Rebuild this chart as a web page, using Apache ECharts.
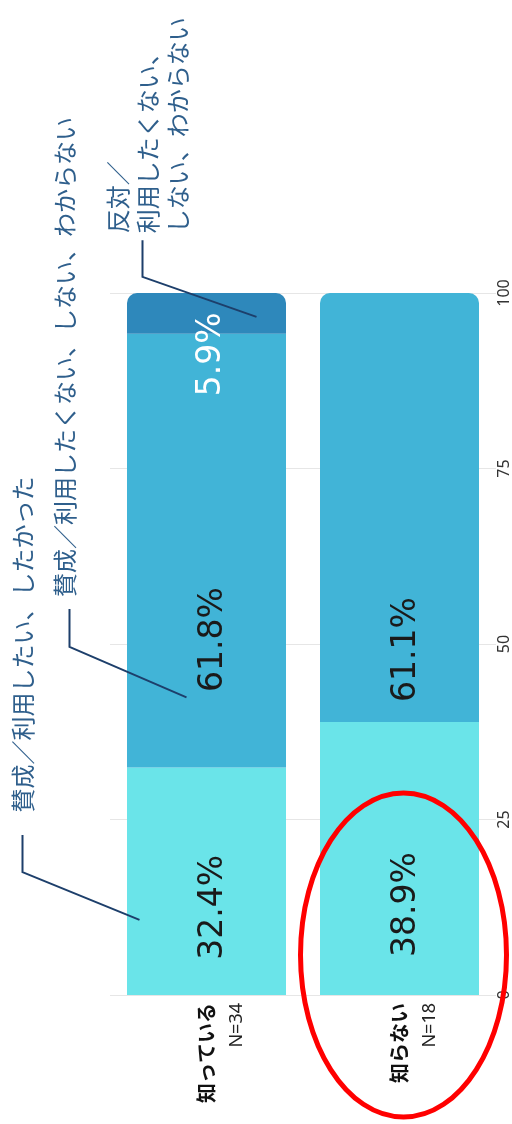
<!DOCTYPE html>
<html>
<head>
<meta charset="utf-8">
<script src="https://cdn.jsdelivr.net/npm/echarts@6/dist/echarts.min.js"></script>
<style>
html,body{margin:0;padding:0;background:#fff;}
#chart{width:512px;height:1124px;}
</style>
</head>
<body>
<div id="chart"></div>
<script>
// ---- data ----
const categories = ['知っている', '知らない'];
const sampleSizes = ['N=34', 'N=18'];
const seriesNames = [
  '賛成／利用したい、したかった',
  '賛成／利用したくない、しない、わからない',
  '反対／利用したくない、しない、わからない'
];
const agreeUse = [32.4, 38.9];
const agreeNotUse = [61.8, 61.1];
const againstNotUse = [5.9, 0];
const valueTicks = [0, 25, 50, 75, 100];

// ---- styles ----
const colors = ['#6ae4e9', '#41b4d7', '#2e88bb'];
const annoText = '#2f5f8c';
const annoLine = '#1d3f6b';
const labelFont = 'DejaVu Sans';
const jpFont = '"Noto Sans CJK JP", "Noto Sans", sans-serif';

const chart = echarts.init(document.getElementById('chart'));

function fmtLabel(p) { return p.value > 0 ? p.value.toFixed(1) + '%' : ''; }

const valueLabel = (color) => ({
  show: true, position: 'inside', rotate: 90,
  fontFamily: labelFont, fontSize: 33, color: color, formatter: fmtLabel
});
// label nudges: screen shift (right, down) expressed in the rotated label frame
const nudge = (right, down) => ({ offset: [-down, right] });

const option = {
  backgroundColor: '#fff',
  animation: false,
  grid: { left: 110, right: 12, top: 293, bottom: 129 },
  xAxis: {
    type: 'category',
    data: categories,
    axisLine: { show: false },
    axisTick: { show: false },
    axisLabel: {
      rotate: 90,
      margin: 8,
      padding: [30, 0, 0, 0],
      formatter: (v, i) => '{a|' + v + '}\n{b|' + sampleSizes[i] + '}',
      rich: {
        a: { fontFamily: jpFont, fontSize: 20, fontWeight: 'bold', color: '#111', lineHeight: 30 },
        b: { fontFamily: 'Noto Sans', fontSize: 18, color: '#222', lineHeight: 30 }
      }
    }
  },
  yAxis: {
    type: 'value',
    position: 'right',
    min: valueTicks[0],
    max: valueTicks[valueTicks.length - 1],
    interval: valueTicks[1] - valueTicks[0],
    axisLine: { show: false },
    axisTick: { show: false },
    splitLine: { lineStyle: { color: '#e6e6e6', width: 1 } },
    axisLabel: { rotate: 90, margin: 0, fontFamily: 'Noto Sans', fontSize: 16, color: '#333' }
  },
  series: [
    {
      name: seriesNames[0], type: 'bar', stack: 'total', barWidth: 159,
      itemStyle: { color: colors[0] },
      label: valueLabel('#1a1a1a'),
      data: agreeUse.map((v, i) => ({ value: v, label: nudge(7, [26, 46][i]) }))
    },
    {
      name: seriesNames[1], type: 'bar', stack: 'total', barWidth: 159,
      itemStyle: { color: colors[1] },
      label: valueLabel('#1a1a1a'),
      data: agreeNotUse.map((v, i) => ({
        value: v,
        label: nudge(7, [89, 142][i]),
        itemStyle: againstNotUse[i] > 0 ? {} : { borderRadius: [10, 10, 0, 0] }
      }))
    },
    {
      name: seriesNames[2], type: 'bar', stack: 'total', barWidth: 159,
      itemStyle: { color: colors[2], borderRadius: [10, 10, 0, 0] },
      label: valueLabel('#ffffff'),
      data: againstNotUse.map((v) => ({ value: v, label: nudge(5, 41) }))
    }
  ]
};
chart.setOption(option);

// ---- annotations anchored on the axes ----
const p0 = chart.convertToPixel({ gridIndex: 0 }, [0, 0]);
const p1 = chart.convertToPixel({ gridIndex: 0 }, [1, 0]);
const p100 = chart.convertToPixel({ gridIndex: 0 }, [0, 100]);
const unit = (p100[1] - p0[1]) / 100;
const Y = (v) => p0[1] + unit * v;
const X0 = (dx) => p0[0] + dx;

function leader(pts) {
  return { type: 'polyline', z: 50, shape: { points: pts },
    style: { stroke: annoLine, lineWidth: 2, fill: null } };
}
function vtext(x, y, text, lh) {
  return { type: 'text', z: 50, x: x, y: y, rotation: Math.PI / 2,
    style: { text: text, x: 0, y: 0, align: 'left', verticalAlign: 'middle',
      font: '24px ' + jpFont, fill: annoText, lineHeight: lh || 30 } };
}

chart.setOption({
  graphic: [
    vtext(X0(-184), Y(26.0), seriesNames[0]),
    leader([[X0(-184), Y(22.8)], [X0(-184), Y(17.5)], [X0(-67), Y(10.7)]]),
    vtext(X0(-142), Y(56.7), seriesNames[1]),
    leader([[X0(-137), Y(55.0)], [X0(-137), Y(49.6)], [X0(-20), Y(42.4)]]),
    vtext(X0(-59), Y(108.5), '反対／\n利用したくない、\nしない、わからない'),
    leader([[X0(-64), Y(107.5)], [X0(-64), Y(102.3)], [X0(50), Y(96.6)]]),
    { type: 'ellipse', z: 100, shape: { cx: p1[0] + 4, cy: Y(5.7), rx: 103, ry: 162 },
      style: { stroke: '#ff0000', lineWidth: 5, fill: null } }
  ]
});
</script>
</body>
</html>
